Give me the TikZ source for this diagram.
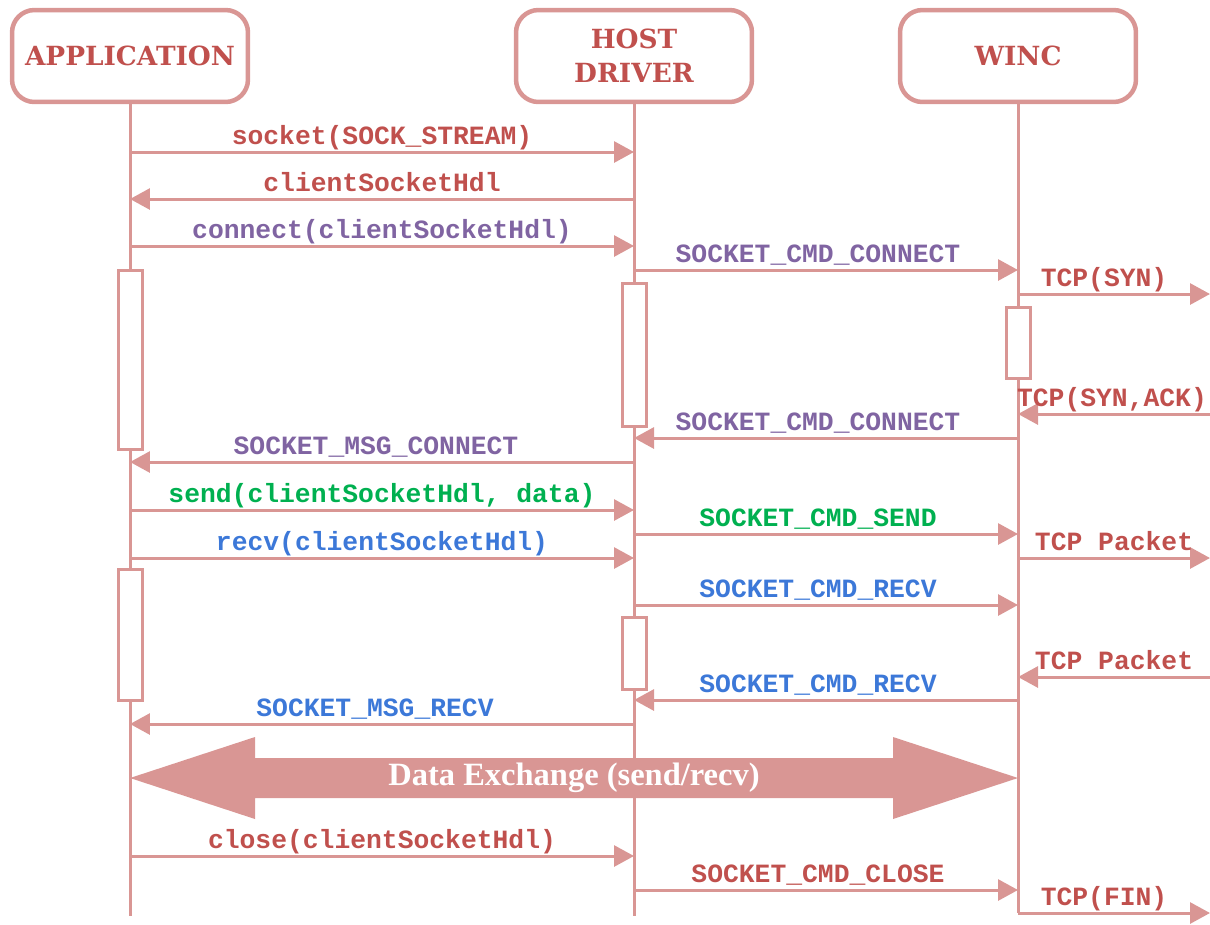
\documentclass[tikz,border=0pt]{standalone}
\usepackage{fontspec}
\usetikzlibrary{arrows.meta,positioning}

\newfontfamily\headfont{DejaVu Serif}[BoldFont={DejaVu Serif Bold}]
\newfontfamily\codefont{Liberation Mono}
\newfontfamily\bandfont{Liberation Serif}

\definecolor{seqline}{HTML}{D99694}
\definecolor{txtred}{HTML}{C0504D}
\definecolor{txtpurple}{HTML}{8064A2}
\definecolor{txtgreen}{HTML}{00B050}
\definecolor{txtblue}{HTML}{3C78D8}

\tikzset{
  head/.style={draw=seqline, line width=0.09cm, rounded corners=0.45cm, fill=white,
               minimum width=4.72cm, minimum height=1.84cm, align=center, text=txtred,
               font=\headfont\bfseries\fontsize{15}{19.5}\selectfont},
  life/.style={draw=seqline, line width=0.06cm},
  msg/.style={draw=seqline, line width=0.06cm, -{Triangle[length=0.4cm,width=0.42cm]}},
  lbl/.style={font=\codefont\bfseries\fontsize{15}{17}\selectfont, anchor=base, inner sep=0pt},
  actbox/.style={draw=seqline, line width=0.06cm, fill=white},
}

\begin{document}
\begin{tikzpicture}[x=0.02cm,y=-0.02cm]
    \useasboundingbox (0,0) rectangle (1210,924);

    % lifelines
    \coordinate (net) at (1210,0);
    \coordinate (bottom) at (0,916);
    \coordinate (finrow) at (0,913);
    \node[head] (app)  at (130,56)  {APPLICATION};
    \node[head] (host) at (634,56)  {HOST\\DRIVER};
    \node[head] (winc) at (1018,56) {WINC};
    \draw[life] (app.south)  -- (app.south |- bottom);
    \draw[life] (host.south) -- (host.south |- bottom);
    \draw[life] (winc.south) -- (winc.south |- finrow);

    % activation boxes
    \draw[actbox] (118,270) rectangle (142,449);
    \draw[actbox] (622,283) rectangle (646,426);
    \draw[actbox] (1006,307) rectangle (1030,378);
    \draw[actbox] (118,569) rectangle (142,700);
    \draw[actbox] (622,617) rectangle (646,689);

    % messages (row / from / to / label / colour / label shift)
    \foreach \y/\src/\dst/\txt/\col/\dx in {
        152/app/host/{socket(SOCK\_STREAM)}/txtred/0,
        199/host/app/{clientSocketHdl}/txtred/0,
        246/app/host/{connect(clientSocketHdl)}/txtpurple/0,
        270/host/winc/{SOCKET\_CMD\_CONNECT}/txtpurple/-8,
        294/winc/net/{TCP(SYN)}/txtred/-10,
        414/net/winc/{TCP(SYN,ACK)}/txtred/-2,
        438/winc/host/{SOCKET\_CMD\_CONNECT}/txtpurple/-8,
        462/host/app/{SOCKET\_MSG\_CONNECT}/txtpurple/-6,
        510/app/host/{send(clientSocketHdl, data)}/txtgreen/0,
        534/host/winc/{SOCKET\_CMD\_SEND}/txtgreen/-8,
        558/winc/net/{TCP Packet}/txtred/0,
        558/app/host/{recv(clientSocketHdl)}/txtblue/0,
        605/host/winc/{SOCKET\_CMD\_RECV}/txtblue/-8,
        677/net/winc/{TCP Packet}/txtred/0,
        700/winc/host/{SOCKET\_CMD\_RECV}/txtblue/-8,
        724/host/app/{SOCKET\_MSG\_RECV}/txtblue/-7,
        856/app/host/{close(clientSocketHdl)}/txtred/0,
        890/host/winc/{SOCKET\_CMD\_CLOSE}/txtred/-8,
        913/winc/net/{TCP(FIN)}/txtred/-10}
    {
        \coordinate (row) at (0,\y);
        \draw[msg] (\src |- row) -- (\dst |- row)
            node[lbl, text=\col, midway, yshift=0.15cm, xshift=\dx*0.02cm] {\txt};
    }

    % data exchange band
    \fill[seqline] (130,778) -- (255,737) -- (255,758) -- (893,758) -- (893,737)
        -- (1018,778) -- (893,819) -- (893,798) -- (255,798) -- (255,819) -- cycle;
    \node[text=white, font=\bandfont\bfseries\fontsize{18.5}{20}\selectfont] (band) at (574,778) {Data Exchange (send/recv)};
\end{tikzpicture}
\end{document}
